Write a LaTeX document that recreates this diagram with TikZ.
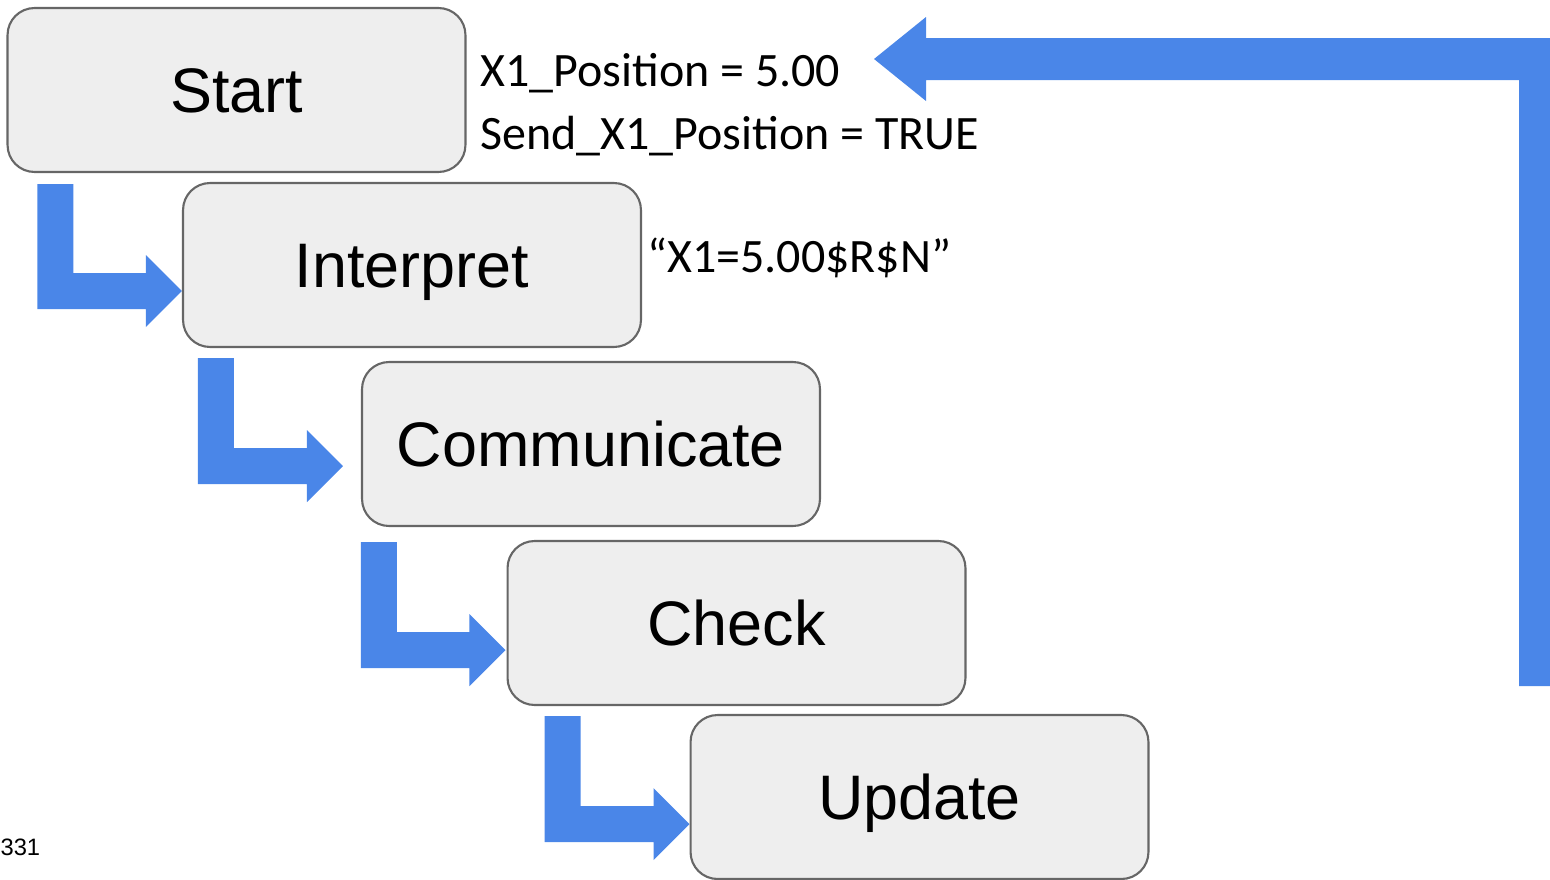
\documentclass[tikz,border=0pt]{standalone}
\usepackage{fontspec}
\setmainfont{Liberation Sans}
\newfontfamily\notefont{Carlito}
\usetikzlibrary{calc}

\definecolor{flowblue}{HTML}{4A86E8}
\definecolor{boxfill}{HTML}{EEEEEE}
\definecolor{boxline}{HTML}{666666}

% bent block arrow: bar drops from #1 (top-left corner), turns right and ends at tip #2
\newcommand\elbow[2]{%
  \fill[flow] (#1) -- ($(#1)+(36,0)$) -- ($(#1 |- #2)+(36,-18)$)
    -- ($(#2)+(-36,-18)$) -- ($(#2)+(-36,-36)$) -- (#2)
    -- ($(#2)+(-36,36)$) -- ($(#2)+(-36,18)$) -- ($(#1 |- #2)+(0,18)$) -- cycle;}

\begin{document}
\begin{tikzpicture}[x=0.02cm, y=-0.02cm,
  stage/.style={draw=boxline, fill=boxfill, line width=1.2pt, rounded corners=0.54cm,
    minimum width=9.16cm, minimum height=3.28cm, inner sep=0pt,
    font=\fontsize{35.8}{40}\selectfont, text height=25.6pt, text depth=0pt},
  flow/.style={fill=flowblue},
  note/.style={font=\notefont\fontsize{27.3}{32}\selectfont, anchor=base west, inner sep=0pt},
  tag/.style={font=\fontsize{13.5}{16}\selectfont, anchor=base east, inner sep=0pt}]

\useasboundingbox (0,0) rectangle (1550,879);
\clip (0,0) rectangle (1550,879);

% stages
\node[stage] (start)  at (236.5, 90)  {Start};
\node[stage] (interp) at (412, 265)   {Interpret};
\node[stage] (comm)   at (591, 444)   {Communicate};
\node[stage] (check)  at (736.5, 623) {Check};
\node[stage] (update) at (919.5, 797) {Update};

% notes
\node[note] (pos)  at (480, 86)  {X1\_Position = 5.00};
\node[note] (send) at (480, 149) {Send\_X1\_Position = TRUE};
\node[note] (cmd)  at (647, 272) {“X1=5.00\$R\$N”};
\node[tag]  (num)  at (40.5, 855) {0331};

% step arrows
\coordinate (top1) at ($(start.south west)+(31,11)$);
\coordinate (tip1) at ($(interp.west)+(0,26)$);
\coordinate (top2) at ($(interp.south west)+(16,10)$);
\coordinate (tip2) at ($(comm.west)+(-18,22)$);
\coordinate (top3) at ($(comm.south west)+(0,15)$);
\coordinate (tip3) at ($(check.west)+(-1,27)$);
\coordinate (top4) at ($(check.south west)+(38,10)$);
\coordinate (tip4) at ($(update.west)+(0,27)$);
\elbow{top1}{tip1}
\elbow{top2}{tip2}
\elbow{top3}{tip3}
\elbow{top4}{tip4}

% loop back to the start
\coordinate (foot) at (1519, 686);
\coordinate (back) at ($(pos.base west)+(394,-27)$);
\fill[flow] (foot) -- (foot |- 0,80) -- ($(back)+(52,21)$) -- ($(back)+(52,42)$)
  -- (back) -- ($(back)+(52,-42)$) -- ($(back)+(52,-21)$) -- (1561,38)
  -- (1561,686) -- cycle;
\end{tikzpicture}
\end{document}
